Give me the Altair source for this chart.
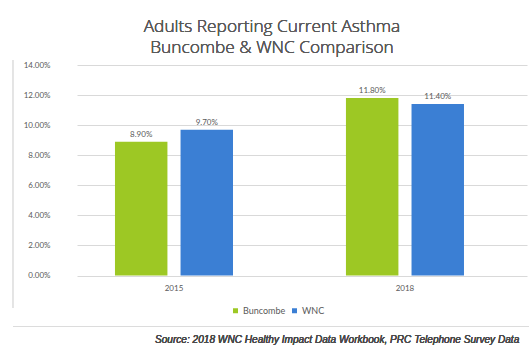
import altair as alt
import pandas as pd

# Survey results: share of adults reporting current asthma
years = ["2015", "2018"]
regions = ["Buncombe", "WNC"]
buncombe_pct = [8.90, 11.80]
wnc_pct = [9.70, 11.40]
y_ticks = [0, 2, 4, 6, 8, 10, 12, 14]
bar_colors = ["#9dc824", "#3b7fd4"]

title_lines = ["Adults Reporting Current Asthma", "Buncombe & WNC Comparison"]
source_note = "Source: 2018 WNC Healthy Impact Data Workbook, PRC Telephone Survey Data"

rows = []
for i, yr in enumerate(years):
    rows.append({"year": yr, "region": "Buncombe", "value": buncombe_pct[i] / 100})
    rows.append({"year": yr, "region": "WNC", "value": wnc_pct[i] / 100})
df = pd.DataFrame(rows)

GREY = "#595959"
FONT = "Lato"
TITLE_FONT = "Open Sans"

base = alt.Chart(df).encode(
    x=alt.X(
        "year:N",
        sort=years,
        scale=alt.Scale(paddingInner=0.489, paddingOuter=0.2186, align=0.376),
        axis=alt.Axis(
            title=None, labelAngle=0, domain=False, ticks=False,
            labelPadding=9, labelFontSize=8, labelColor=GREY, labelFont=FONT,
        ),
    ),
    xOffset=alt.XOffset("region:N", sort=regions,
                        scale=alt.Scale(paddingInner=0.2, paddingOuter=0)),
    y=alt.Y(
        "value:Q",
        scale=alt.Scale(domain=[0, 0.14], nice=False),
        axis=alt.Axis(
            title=None, values=[v / 100 for v in y_ticks], format=".2%",
            domain=False, ticks=False, labelPadding=27, labelFontSize=8,
            labelColor=GREY, labelFont=FONT, grid=True, gridColor="#d9d9d9",
            gridWidth=1,
        ),
    ),
)

bars = base.mark_bar().encode(
    color=alt.Color(
        "region:N", sort=regions,
        scale=alt.Scale(domain=regions, range=bar_colors),
        legend=alt.Legend(
            title=None, orient="none", direction="horizontal",
            legendX=154, legendY=241, symbolType="square", symbolSize=25,
            symbolStrokeWidth=0, labelFontSize=9, labelColor=GREY,
            labelFont=FONT, labelOffset=3, columnPadding=4, padding=0,
        ),
    )
)

labels = base.mark_text(dy=-7, fontSize=8, color=GREY, font=FONT,
                        fontWeight="normal").encode(
    text=alt.Text("value:Q", format=".2%")
)

title1 = alt.Chart(df).mark_text(
    text=title_lines[0], fontSize=17.3, color=GREY, font=TITLE_FONT,
    fontWeight=300, align="center",
).encode(x=alt.value(195), y=alt.value(-38))
title2 = alt.Chart(df).mark_text(
    text=title_lines[1], fontSize=17.3, color=GREY, font=TITLE_FONT,
    fontWeight=300, align="center",
).encode(x=alt.value(195), y=alt.value(-17))

left_rule = alt.Chart(df).mark_rule(color="#e3e3e3", strokeWidth=1).encode(
    x=alt.value(-64), y=alt.value(-5), y2=alt.value(243)
)
bottom_rule = alt.Chart(df).mark_rule(color="#dcdcdc", strokeWidth=1).encode(
    x=alt.value(-64), x2=alt.value(452), y=alt.value(261.5)
)

source = alt.Chart(df).mark_text(
    text=source_note, fontSize=10.1, fontStyle="italic", fontWeight="normal",
    color="#4a4a4a", font="Liberation Sans", align="left",
    baseline="alphabetic",
).encode(x=alt.value(78), y=alt.value(278))

chart = alt.layer(
    bars, labels, title1, title2, left_rule, bottom_rule, source
).properties(
    width=450,
    height=210.5,
    autosize="none",
    padding={"left": 77, "top": 65, "right": 2, "bottom": 73.5},
).configure_view(stroke=None)

chart.save("out.html", embed_options={"renderer": "svg", "actions": False})
